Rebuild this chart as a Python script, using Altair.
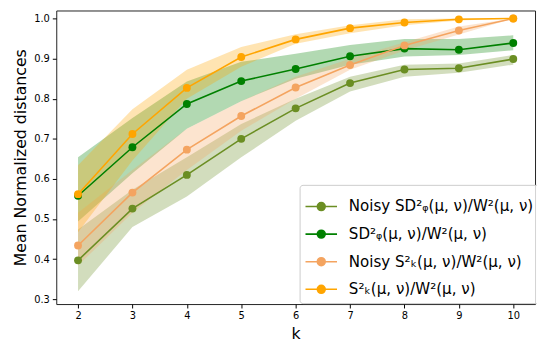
import altair as alt
import pandas as pd

ks = [2, 3, 4, 5, 6, 7, 8, 9, 10]
series_names = [
    "Noisy SD²ᵩ(μ, ν)/W²(μ, ν)",
    "SD²ᵩ(μ, ν)/W²(μ, ν)",
    "Noisy S²ₖ(μ, ν)/W²(μ, ν)",
    "S²ₖ(μ, ν)/W²(μ, ν)",
]
colors = ["#6b8e23", "#008000", "#f4a460", "#ffa500"]

noisy_sd_mean = [0.397, 0.526, 0.610, 0.700, 0.776, 0.839, 0.873, 0.876, 0.899]
noisy_sd_lo = [0.320, 0.480, 0.556, 0.654, 0.745, 0.818, 0.855, 0.865, 0.885]
noisy_sd_hi = [0.474, 0.573, 0.654, 0.737, 0.800, 0.855, 0.885, 0.888, 0.909]

sd_mean = [0.558, 0.679, 0.787, 0.844, 0.874, 0.906, 0.925, 0.922, 0.939]
sd_lo = [0.494, 0.614, 0.725, 0.794, 0.850, 0.885, 0.905, 0.909, 0.921]
sd_hi = [0.654, 0.752, 0.843, 0.892, 0.912, 0.934, 0.949, 0.949, 0.958]

noisy_s_mean = [0.434, 0.566, 0.673, 0.757, 0.828, 0.884, 0.933, 0.970, 1.000]
noisy_s_lo = [0.384, 0.516, 0.622, 0.720, 0.800, 0.872, 0.920, 0.960, 1.000]
noisy_s_hi = [0.516, 0.622, 0.725, 0.794, 0.855, 0.900, 0.941, 0.980, 1.000]

s_mean = [0.562, 0.712, 0.827, 0.904, 0.948, 0.976, 0.990, 0.998, 1.000]
s_lo = [0.467, 0.646, 0.800, 0.880, 0.937, 0.963, 0.983, 0.995, 1.000]
s_hi = [0.634, 0.774, 0.872, 0.929, 0.961, 0.983, 0.998, 1.000, 1.000]

means = [noisy_sd_mean, sd_mean, noisy_s_mean, s_mean]
los = [noisy_sd_lo, sd_lo, noisy_s_lo, s_lo]
his = [noisy_sd_hi, sd_hi, noisy_s_hi, s_hi]

rows = []
for i, name in enumerate(series_names):
    for j, k in enumerate(ks):
        rows.append({"k": k, "series": name, "order": i,
                     "mean": means[i][j], "lo": los[i][j], "hi": his[i][j]})
df = pd.DataFrame(rows)

xscale = alt.Scale(domain=[1.6, 10.4], nice=False, zero=False)
yscale = alt.Scale(domain=[0.288, 1.020], nice=False, zero=False)
cscale = alt.Scale(domain=series_names, range=colors)

x = alt.X("k:Q", scale=xscale, title="k",
          axis=alt.Axis(values=ks, format="d", grid=False))
y = alt.Y("mean:Q", scale=yscale, title="Mean Normalized distances",
          axis=alt.Axis(values=[0.3, 0.4, 0.5, 0.6, 0.7, 0.8, 0.9, 1.0],
                        format=".1f", grid=False))

base = alt.Chart(df)

bands = base.mark_area(opacity=0.3).encode(
    x=alt.X("k:Q", scale=xscale),
    y=alt.Y("lo:Q", scale=yscale),
    y2="hi:Q",
    color=alt.Color("series:N", scale=cscale, legend=None),
    detail="series:N",
)

legend_path = ("M-1,0L1,0M-0.25,0A0.25,0.25,0,1,1,0.25,0"
               "A0.25,0.25,0,1,1,-0.25,0Z")

lines = base.mark_line(strokeWidth=1.6).encode(
    x=x, y=y,
    color=alt.Color("series:N", scale=cscale, sort=series_names,
                    legend=alt.Legend(
                        title=None, orient="none", legendX=247, legendY=177,
                        symbolType=legend_path, symbolSize=1024,
                        symbolStrokeWidth=1.6, labelFontSize=15.3,
                        labelFont="DejaVu Sans", labelColor="#000",
                        labelLimit=300, rowPadding=2, padding=5,
                        strokeColor="#cccccc", cornerRadius=3,
                        fillColor="rgba(255,255,255,0.8)", labelOffset=11)),
    order="order:Q",
)

points = base.mark_point(filled=True, size=64, opacity=1).encode(
    x=x, y=y,
    color=alt.Color("series:N", scale=cscale, sort=series_names),
)

chart = alt.layer(bands, alt.layer(lines, points)).resolve_scale(
    color="independent"
).properties(
    width=486, height=298,
    autosize=alt.AutoSizeParams(type="none"),
    padding={"left": 49, "top": 0, "right": 2, "bottom": 38},
).configure_view(
    stroke="#222", strokeWidth=1
).configure_axis(
    labelFont="DejaVu Sans", labelFontSize=10, labelColor="#000",
    titleFont="DejaVu Sans", titleFontSize=16, titleFontWeight="normal",
    titleColor="#000", tickColor="#000", tickSize=4, domain=False,
    labelPadding=3,
).configure_axisY(titlePadding=5).configure_axisX(titlePadding=5)

chart.save("out.html", embed_options={"renderer": "svg", "actions": False})
